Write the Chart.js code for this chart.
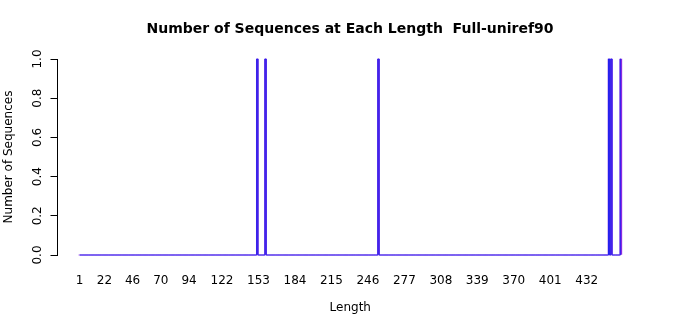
<!DOCTYPE html>
<html lang="en">
<head>
<meta charset="UTF-8">
<title>Number of Sequences at Each Length</title>
<script src="https://cdn.jsdelivr.net/npm/chart.js"></script>
<style>
  body { margin: 0; background: #fff; }
  canvas { display: block; }
</style>
</head>
<body>
<canvas id="grafico" width="700" height="315"></canvas>
<script>
    // lengths seen in the set (one sequence each)
    const seqLengths = [152, 159, 255, 451, 453, 461];
    const maxLength = 461;
    const xTickLabels = [1, 22, 46, 70, 94, 122, 153, 184, 215, 246, 277, 308, 339, 370, 401, 432];
    const yTicks = [0, 0.2, 0.4, 0.6, 0.8, 1.0];
    const yTickLabels = ['0.0', '0.2', '0.4', '0.6', '0.8', '1.0'];

    // table() like count per length
    const lengths = Array.from({length: maxLength}, (_, i) => i + 1);
    const counts = lengths.map(l => seqLengths.filter(s => s === l).length);
    const pontos = lengths.map((l, i) => ({x: l, y: counts[i]}));

    const fonte = {family: 'DejaVu Sans', size: 12};

    // rotated y labels, like R does
    const yLabels = {
        id: 'yLabels',
        afterDraw(chart) {
            const ctx = chart.ctx;
            const ys = chart.scales.y;
            ctx.save();
            ctx.font = '12px "DejaVu Sans"';
            ctx.fillStyle = '#000';
            ctx.textAlign = 'center';
            ctx.textBaseline = 'middle';
            yTicks.forEach((v, i) => {
                ctx.save();
                ctx.translate(38, ys.getPixelForValue(v));
                ctx.rotate(-Math.PI / 2);
                ctx.fillText(yTickLabels[i], 0, 0);
                ctx.restore();
            });
            ctx.restore();
        }
    };

    new Chart(document.getElementById('grafico'), {
        type: 'bar',
        data: {
            datasets: [{
                type: 'bar',
                data: pontos,
                backgroundColor: 'blueviolet',
                borderWidth: 0,
                barThickness: 2,
                clip: 4,
                order: 2
            }, {
                type: 'line',
                data: pontos,
                stepped: 'middle',
                borderColor: '#2020ee',
                borderWidth: 1,
                pointRadius: 0,
                clip: 4,
                order: 1
            }]
        },
        options: {
            responsive: false,
            animation: false,
            layout: {padding: 0},
            plugins: {
                legend: {display: false},
                tooltip: {enabled: false},
                title: {
                    display: true,
                    text: 'Number of Sequences at Each Length  Full-uniref90',
                    color: '#000',
                    font: {family: 'DejaVu Sans', size: 14, weight: 'bold'},
                    padding: {top: 21, bottom: 21.2}
                }
            },
            scales: {
                x: {
                    type: 'linear',
                    min: -17.85,
                    max: 479.85,
                    offset: false,
                    afterBuildTicks: s => { s.ticks = xTickLabels.map(v => ({value: v})); },
                    afterFit: s => { s.height = 60; },
                    grid: {display: false, drawTicks: false, offset: false},
                    border: {display: false},
                    ticks: {
                        color: '#000',
                        font: fonte,
                        padding: 19,
                        autoSkip: false,
                        maxRotation: 0,
                        callback: v => String(v)
                    },
                    title: {display: true, text: 'Length', color: '#000', font: fonte, padding: 0}
                },
                y: {
                    min: 0,
                    max: 1,
                    afterBuildTicks: s => { s.ticks = yTicks.map(v => ({value: v})); },
                    afterFit: s => { s.width = 57.5; },
                    grid: {drawOnChartArea: false, drawTicks: true, tickLength: 7, color: '#000'},
                    border: {color: '#000'},
                    ticks: {display: false},
                    title: {display: true, text: 'Number of Sequences', color: '#000', font: fonte, padding: 2}
                },
                // empty right margin, as the R plot region leaves one
                yRight: {
                    position: 'right',
                    min: 0,
                    max: 1,
                    afterFit: s => { s.width = 57; },
                    grid: {display: false},
                    border: {display: false},
                    ticks: {display: false}
                }
            }
        },
        plugins: [yLabels]
    });
</script>
</body>
</html>
